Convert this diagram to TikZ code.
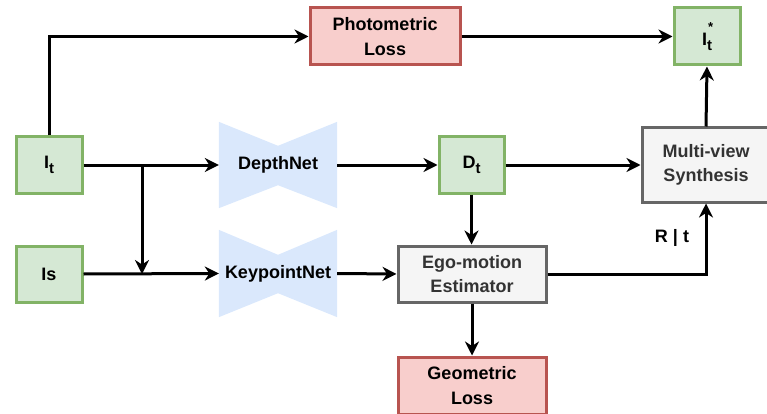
\documentclass[tikz,border=0pt]{standalone}
\usepackage{fontspec}
\setmainfont{Liberation Sans}
\usetikzlibrary{arrows.meta,backgrounds,calc}
\definecolor{gfill}{HTML}{D5E8D4}
\definecolor{gline}{HTML}{82B366}
\definecolor{rfill}{HTML}{F8CECC}
\definecolor{rline}{HTML}{B85450}
\definecolor{kfill}{HTML}{F5F5F5}
\definecolor{kline}{HTML}{666666}
\definecolor{ktext}{HTML}{333333}
\definecolor{bfill}{HTML}{DAE8FC}
\newcommand{\mysub}[1]{\raisebox{-0.3em}{\fontsize{15}{15}\selectfont #1}}
\begin{document}
\begin{tikzpicture}[x=1pt,y=-1pt,
  lbl/.style={inner sep=0pt,align=center,font=\fontsize{18}{24.5}\selectfont\bfseries},
  box/.style={lbl,draw,line width=3pt},
  gbox/.style={box,fill=gfill,draw=gline,minimum width=66pt,minimum height=56pt},
  rbox/.style={box,fill=rfill,draw=rline,minimum width=150pt,minimum height=57pt},
  kbox/.style={box,fill=kfill,draw=kline,text=ktext},
  net/.style={lbl,minimum width=118pt,minimum height=86pt},
  arr/.style={line width=3pt,-{Stealth[length=14pt,width=14pt,inset=4.5pt]}},
]
\useasboundingbox (0,0) rectangle (767,414);
\node[gbox] (It) at (49,165) {I\mysub{t}};
\node[gbox] (Is) at (49,274) {Is};
\node[rbox] (ph) at (385,36.5) {Photometric\\Loss};
\node[gbox,minimum height=57pt] (its) at (707,36.5) {I\rlap{\hspace{1pt}\raisebox{0.8em}{\fontsize{13}{13}\selectfont *}}\mysub{t}};
\node[net] (dn) at (278,165) {DepthNet};
\node[net,minimum height=87pt] (kn) at (278,273.5) {KeypointNet};
\node[gbox,minimum width=65pt] (dt) at (471.5,165) {D\mysub{t}};
\node[kbox,minimum width=128pt,minimum height=74pt] (mv) at (706,165) {Multi-view\\Synthesis};
\node[kbox,minimum width=148pt,minimum height=56pt] (ego) at (472,274) {Ego-motion\\Estimator};
\node[rbox,minimum width=148pt] (geo) at (472,385.5) {Geometric\\Loss};
\node[lbl] (rt) at (672,238) {R | t};
\coordinate (br1) at (142,165);
\coordinate (br2) at (142,274);
\begin{scope}[on background layer]
  \fill[bfill] (dn.north west) -- ($(dn.north)+(0,24)$) -- (dn.north east) -- (dn.south east) -- ($(dn.south)+(0,-23)$) -- (dn.south west) -- cycle;
  \fill[bfill] (kn.north west) -- ($(kn.north)+(0,25)$) -- (kn.north east) -- (kn.south east) -- ($(kn.south)+(0,-24)$) -- (kn.south west) -- cycle;
\end{scope}
\draw[arr] (It.north) |- (ph.west);
\draw[arr] (ph.east) -- (its.west);
\draw[arr] (It.east) -- (dn.west);
\draw[arr] (br1) -- (br2);
\draw[arr] (Is.east) -- (kn.west);
\draw[arr] (dn.east) -- (dt.west);
\draw[arr] (dt.east) -- (mv.west);
\draw[arr] (dt.south) -- (dt.south |- ego.north);
\draw[arr] (kn.east) -- (ego.west);
\draw[arr] (ego.east) -| (mv.south);
\draw[arr] (mv.north) -- (its.south);
\draw[arr] (ego.south) -- (geo.north);
\end{tikzpicture}
\end{document}
